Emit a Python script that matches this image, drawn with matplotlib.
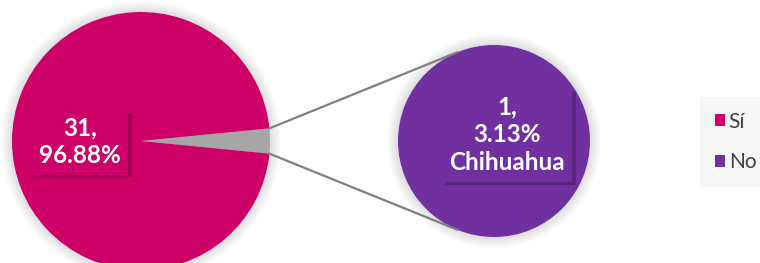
import matplotlib.pyplot as plt
import matplotlib.patheffects as pe
from matplotlib.patches import Patch, Circle
from decimal import Decimal, ROUND_HALF_UP
import numpy as np

# Data
labels = ["Sí", "No"]
counts = [31, 1]
sub_labels = ["Chihuahua"]
sub_counts = [1]

pink = "#CC0066"
purple = "#7030A0"
gray = "#A6A6A6"

plt.rcParams['font.family'] = ['Lato', 'DejaVu Sans']

fig = plt.figure(figsize=(7.6, 2.63), dpi=100)
ax = fig.add_axes([0, 0, 1, 1])

total = sum(counts)


def pct(c):
    # Excel style rounding (half up)
    v = Decimal(c) * 100 / Decimal(total)
    return str(v.quantize(Decimal("0.01"), rounding=ROUND_HALF_UP))


c1, r1 = (141, 141), 129
c2, r2 = (494, 141), 96


def glow(center, r):
    for k in range(1, 12):
        ax.add_patch(Circle(center, r + k, color="black", alpha=0.012, lw=0, zorder=0))


glow(c1, r1)
glow(c2, r2)

# main pie, small slice ("No") centred on the right in gray
half = 360 * counts[1] / total / 2
ax.pie(counts[::-1], colors=[gray, pink], startangle=-half, center=c1, radius=r1,
       wedgeprops=dict(linewidth=0))

# second pie showing the breakdown of "No"
ax.pie(sub_counts, colors=[purple], center=c2, radius=r2, wedgeprops=dict(linewidth=0))

# connector lines
th = np.radians(half)
end_ang = np.radians(112.5)
for s in (1, -1):
    x0 = c1[0] + r1 * np.cos(th)
    y0 = c1[1] - s * r1 * np.sin(th)
    x1 = c2[0] + r2 * np.cos(end_ang)
    y1 = c2[1] - s * r2 * np.sin(end_ang)
    ax.plot([x0, x1], [y0, y1], color="#7F7F7F", lw=1.6, zorder=1)

shadow = [pe.withSimplePatchShadow(offset=(2.5, -2.5), shadow_rgbFace="black", alpha=0.2)]

t1 = ax.text(c1[0] - 61, c1[1] + 1, f"{counts[0]},\n{pct(counts[0])}%", ha="center", va="center",
             color="white", fontsize=17.5, fontweight="bold", linespacing=1.25,
             bbox=dict(boxstyle="square,pad=0.3", fc=pink, ec="none"))
t1.get_bbox_patch().set_path_effects(shadow)

t2 = ax.text(c2[0] + 13, c2[1] - 6, f"{sub_counts[0]},\n{pct(sub_counts[0])}%\n{sub_labels[0]}",
             ha="center", va="center", color="white", fontsize=17.5, fontweight="bold",
             linespacing=1.25, bbox=dict(boxstyle="square,pad=0.3", fc=purple, ec="none"))
t2.get_bbox_patch().set_path_effects(shadow)

ax.set_xlim(0, 760)
ax.set_ylim(263, 0)
ax.set_aspect("equal")
ax.axis("off")

handles = [Patch(facecolor=pink, edgecolor="none"), Patch(facecolor=purple, edgecolor="none")]
leg = fig.legend(handles, labels, loc="upper left", bbox_to_anchor=(700 / 760, 1 - 97 / 263),
                 borderaxespad=0, frameon=True, fontsize=15, handlelength=0.48, handleheight=0.48,
                 handletextpad=0.2, labelspacing=1.0, borderpad=0.7, fancybox=False)
leg.get_frame().set_facecolor("#F4F4F4")
leg.get_frame().set_edgecolor("none")
for t in leg.get_texts():
    t.set_color("#404040")

fig.savefig("out.png", dpi=100)
